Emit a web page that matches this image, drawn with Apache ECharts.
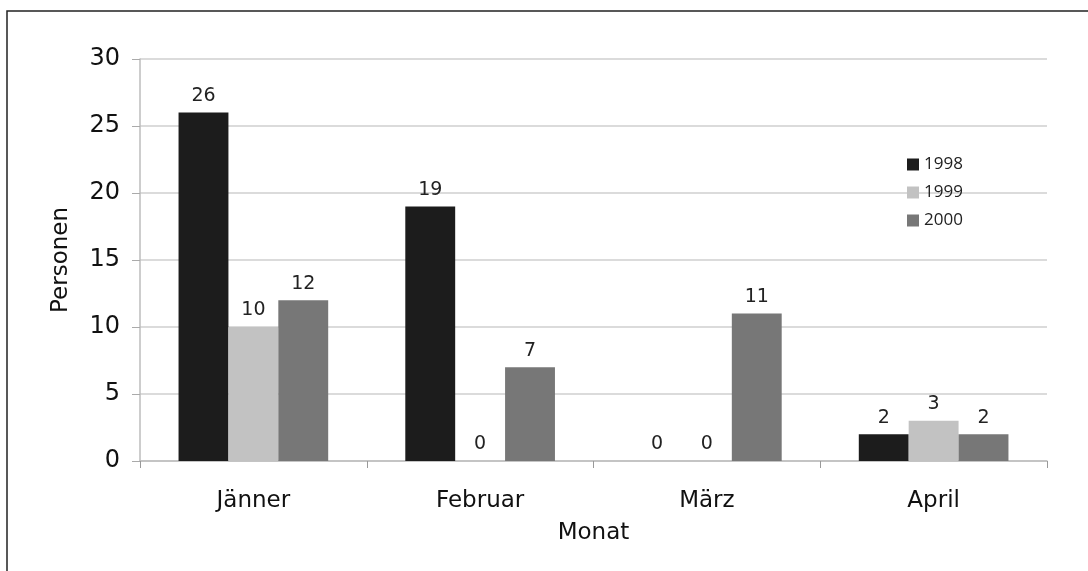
<!DOCTYPE html>
<html>
<head>
<meta charset="utf-8">
<script src="https://cdn.jsdelivr.net/npm/echarts@6/dist/echarts.min.js"></script>
<style>
  html, body { margin: 0; padding: 0; background: #fff; }
  #chart { width: 1088px; height: 571px; }
</style>
</head>
<body>
<div id="chart"></div>
<script>
// Personen pro Monat
var months = ['Jänner', 'Februar', 'März', 'April'];
var years = ['1998', '1999', '2000'];
var values1998 = [26, 19, 0, 2];
var values1999 = [10, 0, 0, 3];
var values2000 = [12, 7, 11, 2];
var yTicks = [0, 5, 10, 15, 20, 25, 30];

var colors = ['#1c1c1c', '#c2c2c2', '#777777'];
var txtFont = 'DejaVu Sans';

var chart = echarts.init(document.getElementById('chart'));

function makeSeries(name, data, i) {
    return {
        name: name,
        type: 'bar',
        data: data,
        barGap: '0%',
        barCategoryGap: '34%',
        itemStyle: { color: colors[i] },
        label: {
            show: true,
            position: 'top',
            distance: 7,
            color: '#222',
            fontSize: 19,
            fontFamily: txtFont
        }
    };
}

chart.setOption({
    animation: false,
    backgroundColor: '#fff',
    grid: { left: 140, right: 41, top: 59, bottom: 110 },
    legend: {
        orient: 'vertical',
        left: 902,
        top: 151,
        itemWidth: 12,
        itemHeight: 12,
        itemGap: 11,
        icon: 'rect',
        data: years,
        textStyle: { fontSize: 17, fontFamily: 'Open Sans', color: '#222' }
    },
    xAxis: {
        type: 'category',
        data: months,
        name: 'Monat',
        nameLocation: 'middle',
        nameGap: 61,
        nameTextStyle: { fontSize: 23, fontFamily: txtFont, color: '#111' },
        axisLine: { lineStyle: { color: '#bdbdbd', width: 1.5 } },
        axisTick: { show: true, length: 7, lineStyle: { color: '#999' } },
        axisLabel: { margin: 29, fontSize: 23, fontFamily: txtFont, color: '#111' }
    },
    yAxis: {
        type: 'value',
        min: yTicks[0],
        max: yTicks[yTicks.length - 1],
        interval: 5,
        name: 'Personen',
        nameLocation: 'middle',
        nameGap: 67,
        nameRotate: 90,
        nameTextStyle: { fontSize: 23, fontFamily: txtFont, color: '#111' },
        axisLine: { show: true, lineStyle: { color: '#bdbdbd', width: 1.5 } },
        axisTick: { show: true, length: 8, lineStyle: { color: '#aaa' } },
        splitLine: { lineStyle: { color: '#cfcfcf', width: 1.5 } },
        axisLabel: { margin: 20, fontSize: 24, fontFamily: txtFont, color: '#111' }
    },
    series: [
        makeSeries(years[0], values1998, 0),
        makeSeries(years[1], values1999, 1),
        makeSeries(years[2], values2000, 2)
    ],
    graphic: [{
        type: 'rect',
        shape: { x: 7, y: 11, width: 1200, height: 700 },
        style: { fill: null, stroke: '#222', lineWidth: 1.5 },
        silent: true
    }]
});
</script>
</body>
</html>
